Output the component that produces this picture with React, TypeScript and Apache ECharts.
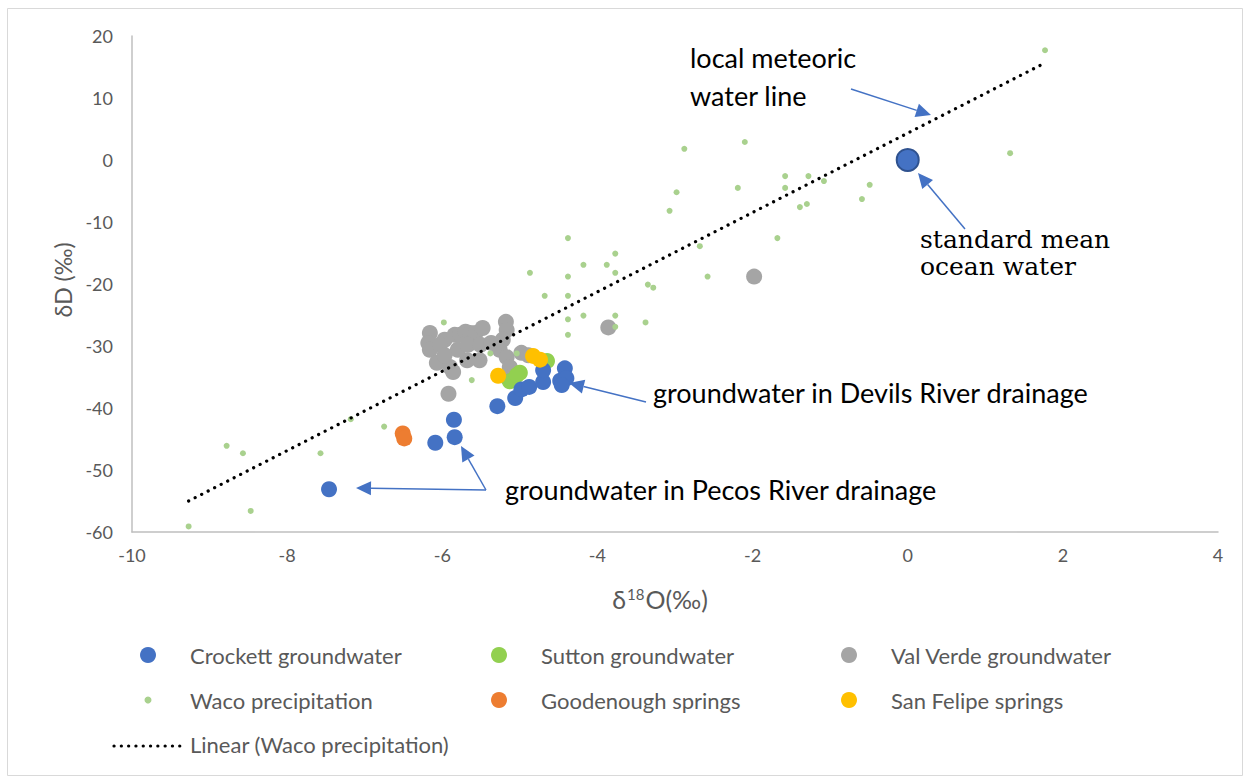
import React, { useEffect, useRef } from "react";
import * as echarts from "echarts";

// ---------- data ----------
const xTicks = { min: -10, max: 4, interval: 2 };
const yTicks = { min: -60, max: 20, interval: 10 };

const crockett: [number, number][] = [
  [-7.46, -53.1], [-6.09, -45.6], [-5.84, -44.7], [-5.85, -41.9], [-5.29, -39.7],
  [-5.06, -38.4], [-4.98, -37.0], [-4.88, -36.6], [-4.7, -35.8], [-4.7, -33.9],
  [-4.48, -35.6], [-4.42, -33.6], [-4.4, -35.2], [-4.46, -36.3],
];
const sutton: [number, number][] = [
  [-4.65, -32.4], [-5.0, -34.3], [-5.13, -35.7], [-5.04, -34.7],
];
const valVerde: [number, number][] = [
  [-6.16, -27.9], [-6.18, -29.5], [-6.16, -30.6], [-6.07, -32.7], [-5.97, -29.0],
  [-5.9, -33.4], [-5.84, -28.2], [-5.86, -34.2], [-5.77, -28.2], [-5.7, -27.7],
  [-5.64, -27.9], [-5.57, -27.9], [-5.48, -27.1], [-5.18, -26.1], [-5.17, -27.4],
  [-5.22, -29.0], [-5.52, -32.3], [-5.68, -32.3], [-5.8, -30.6], [-5.67, -29.8],
  [-5.51, -29.8], [-5.37, -29.5], [-5.26, -30.6], [-5.17, -31.8], [-5.13, -33.4],
  [-5.17, -35.0], [-4.98, -31.1], [-4.89, -31.5], [-6.03, -29.8], [-5.97, -31.5],
  [-5.92, -37.7], [-3.86, -27.0], [-1.98, -18.8],
];
const waco: [number, number][] = [
  [1.77, 17.7], [1.32, 1.1], [-2.1, 2.9], [-2.88, 1.8], [-2.98, -5.2], [-3.07, -8.2],
  [-2.19, -4.5], [-1.58, -2.6], [-1.28, -2.6], [-1.08, -3.4], [-1.58, -4.5], [-0.49, -4.0],
  [-0.59, -6.3], [-1.39, -7.6], [-1.3, -7.1], [-4.38, -12.6], [-1.68, -12.6], [-2.68, -13.9],
  [-3.77, -15.1], [-4.18, -16.9], [-3.88, -16.9], [-3.77, -18.2], [-4.38, -18.8], [-4.87, -18.2],
  [-2.58, -18.8], [-3.35, -20.1], [-3.28, -20.6], [-4.38, -21.9], [-4.68, -21.9], [-4.38, -25.7],
  [-4.18, -25.1], [-3.77, -25.1], [-3.38, -26.2], [-3.77, -26.9], [-4.38, -28.2], [-5.98, -26.2],
  [-5.38, -31.2], [-5.04, -31.2], [-5.62, -35.5], [-8.78, -46.1], [-8.57, -47.3], [-7.57, -47.3],
  [-7.18, -41.8], [-6.75, -43.0], [-8.47, -56.6], [-9.27, -59.1],
];
const goodenough: [number, number][] = [[-6.51, -44.1], [-6.49, -44.9]];
const sanFelipe: [number, number][] = [[-4.83, -31.6], [-4.74, -32.2], [-5.28, -34.8]];
const smow: [number, number][] = [[0, 0]];
const trendline: [number, number][] = [[-9.27, -55.0], [1.76, 15.6]];

const FONT = 'Lato, "Noto Sans", sans-serif';
const SERIF = '"DejaVu Serif", "Liberation Serif", serif';
const ARROW = "#4472C4";
const DOTS = [0.1, 7.2];

function arrow(x1: number, y1: number, x2: number, y2: number) {
  const dx = x2 - x1, dy = y2 - y1;
  const len = Math.hypot(dx, dy);
  const ux = dx / len, uy = dy / len;
  const hl = 15, hw = 7;
  const bx = x2 - ux * hl, by = y2 - uy * hl;
  return [
    {
      type: "line",
      shape: { x1, y1, x2: bx, y2: by },
      style: { stroke: ARROW, lineWidth: 1.5 },
      silent: true,
    },
    {
      type: "polygon",
      shape: { points: [[x2, y2], [bx - uy * hw, by + ux * hw], [bx + uy * hw, by - ux * hw]] },
      style: { fill: ARROW },
      silent: true,
    },
  ];
}

// icon centred at cx; text starting at textX
function legendItem(name: string, cx: number, centerY: number, size: number, textX: number) {
  const left = cx - size / 2;
  return {
    data: [name],
    left,
    top: centerY - 13,
    itemWidth: size,
    itemHeight: size,
    padding: 0,
    selectedMode: false,
    textStyle: {
      fontFamily: FONT, fontSize: 22, color: "#595959",
      padding: [0, 0, 0, Math.max(0, textX - (left + size + 5))],
    },
  };
}

export default function App() {
  const ref = useRef<HTMLDivElement>(null);
  useEffect(() => {
    document.body.style.margin = "0";
    const chart = echarts.init(ref.current!, null, { renderer: "svg" });
    const rowA = 657, rowB = 702, rowC = 746;
    chart.setOption({
      animation: false,
      backgroundColor: "#ffffff",
      grid: { left: 132, right: 32, top: 36, bottom: 246 },
      xAxis: {
        type: "value",
        min: xTicks.min,
        max: xTicks.max,
        interval: xTicks.interval,
        splitLine: { show: false },
        axisTick: { show: false },
        axisLine: { onZero: false, lineStyle: { color: "#BFBFBF", width: 1.5 } },
        axisLabel: { fontFamily: FONT, fontSize: 18, color: "#595959", margin: 14 },
        name: "{a|δ}{s|18}{a|O(‰)}",
        nameLocation: "middle",
        nameGap: 54,
        nameTextStyle: {
          padding: [0, 30, 0, 0],
          rich: {
            a: { fontFamily: FONT, fontSize: 25, color: "#595959", verticalAlign: "bottom" },
            s: { fontFamily: FONT, fontSize: 15, color: "#595959", verticalAlign: "top", padding: [0, 1, 10, 1] },
          },
        },
      },
      yAxis: {
        type: "value",
        min: yTicks.min,
        max: yTicks.max,
        interval: yTicks.interval,
        splitLine: { show: false },
        axisTick: { show: false },
        axisLine: { show: true, onZero: false, lineStyle: { color: "#BFBFBF", width: 1.5 } },
        axisLabel: { fontFamily: FONT, fontSize: 18, color: "#595959", margin: 19 },
        name: "δD (‰)",
        nameLocation: "middle",
        nameGap: 35,
        nameTextStyle: { fontFamily: FONT, fontSize: 23, color: "#595959", padding: [0, 0, 0, 8] },
      },
      legend: [
        legendItem("Crockett groundwater", 148, rowA, 16, 190),
        legendItem("Sutton groundwater", 499, rowA, 16, 541),
        legendItem("Val Verde groundwater", 849, rowA, 16, 891),
        legendItem("Waco precipitation", 148, rowB, 7, 190),
        legendItem("Goodenough springs", 499, rowB, 16, 541),
        legendItem("San Felipe springs", 849, rowB, 16, 891),
        {
          data: [{ name: "Linear (Waco precipitation)", icon: "none" }],
          left: 112,
          top: rowC - 13,
          itemWidth: 72,
          itemHeight: 14,
          padding: 0,
          selectedMode: false,
          textStyle: { fontFamily: FONT, fontSize: 22, color: "#595959", padding: [0, 0, 0, 1] },
        },
      ],
      series: [
        {
          name: "Val Verde groundwater", type: "scatter", data: valVerde, symbolSize: 16,
          itemStyle: { color: "#A5A5A5", opacity: 1 },
        },
        {
          name: "Sutton groundwater", type: "scatter", data: sutton, symbolSize: 16,
          itemStyle: { color: "#92D050", opacity: 1 },
        },
        {
          name: "Crockett groundwater", type: "scatter", data: crockett, symbolSize: 16,
          itemStyle: { color: "#4472C4", opacity: 1 },
        },
        {
          name: "Linear (Waco precipitation)", type: "line", data: trendline, symbol: "none",
          lineStyle: { color: "#000000", width: 3.2, type: DOTS, cap: "round" },
          itemStyle: { color: "#000000" },
        },
        {
          name: "Waco precipitation", type: "scatter", data: waco, symbolSize: 6,
          itemStyle: { color: "#A9D18E", opacity: 1 },
        },
        {
          name: "Goodenough springs", type: "scatter", data: goodenough, symbolSize: 16,
          itemStyle: { color: "#ED7D31", opacity: 1 },
        },
        {
          name: "San Felipe springs", type: "scatter", data: sanFelipe, symbolSize: 16,
          itemStyle: { color: "#FFC000", opacity: 1 },
        },
        {
          name: "standard mean ocean water", type: "scatter", data: smow, symbolSize: 22,
          itemStyle: { color: "#4472C4", borderColor: "#2F528F", borderWidth: 2, opacity: 1 },
        },
      ],
      graphic: [
        {
          type: "rect", silent: true, z: -10,
          shape: { x: 7.5, y: 8.5, width: 1235, height: 767 },
          style: { fill: "none", stroke: "#D9D9D9", lineWidth: 1 },
        },
        {
          type: "line", silent: true,
          shape: { x1: 114, y1: rowC, x2: 183, y2: rowC },
          style: { stroke: "#000000", lineWidth: 3.2, lineDash: DOTS, lineCap: "round" },
        },
        {
          type: "text", left: 690, top: 38, silent: true,
          style: { text: "local meteoric\nwater line", fontFamily: FONT, fontSize: 27, lineHeight: 38, fill: "#000000" },
        },
        {
          type: "text", left: 920, top: 226, silent: true,
          style: { text: "standard mean\nocean water", fontFamily: SERIF, fontSize: 25, lineHeight: 27, fill: "#000000" },
        },
        {
          type: "text", left: 653, top: 379, silent: true,
          style: { text: "groundwater in Devils River drainage", fontFamily: FONT, fontSize: 27, fill: "#000000" },
        },
        {
          type: "text", left: 505, top: 476, silent: true,
          style: { text: "groundwater in Pecos River drainage", fontFamily: FONT, fontSize: 27, fill: "#000000" },
        },
        ...arrow(851, 89, 931, 115),
        ...arrow(965, 229, 918, 173),
        ...arrow(646, 402, 569, 383),
        ...arrow(486, 490, 356, 488),
        ...arrow(486, 490, 461, 446),
      ],
    });
    return () => chart.dispose();
  }, []);
  return <div ref={ref} style={{ width: 1250, height: 778 }} />;
}
